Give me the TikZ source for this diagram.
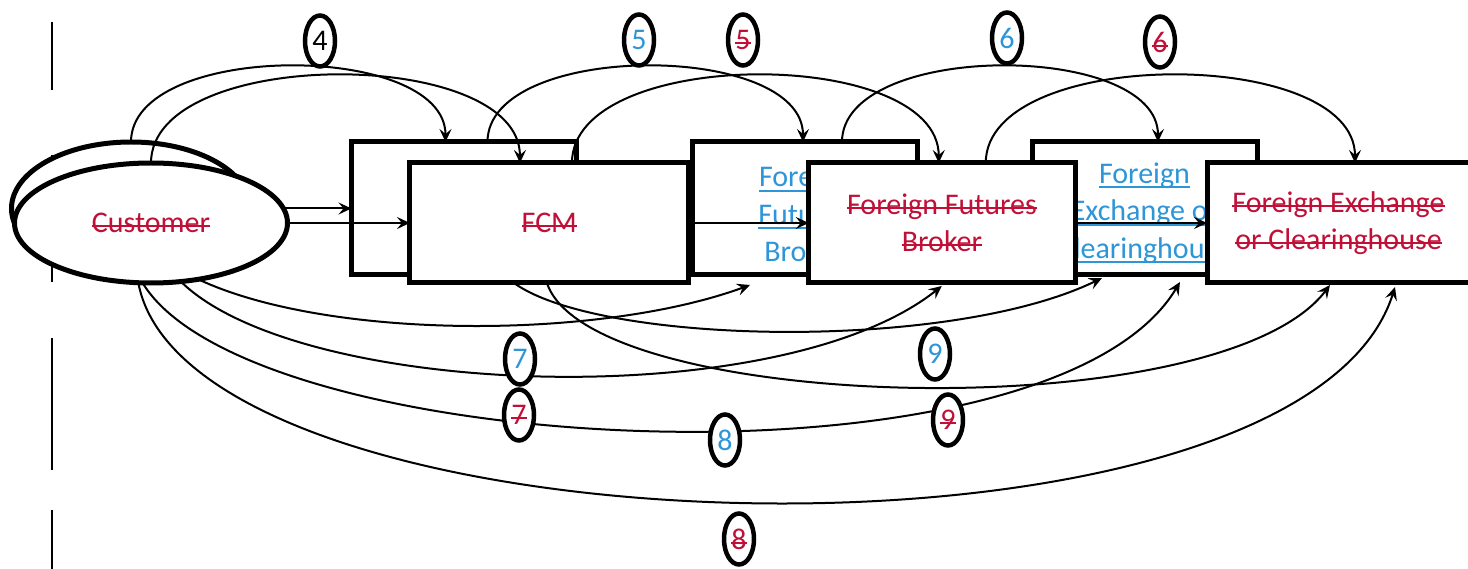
\documentclass[tikz,border=0pt]{standalone}
\usepackage{fontspec}
\setmainfont{Carlito}
\usetikzlibrary{shapes.geometric,arrows.meta}
\definecolor{insblue}{RGB}{46,150,216}
\definecolor{delred}{RGB}{192,16,56}
\newsavebox{\mkbox}
\newcommand{\mkins}[1]{\sbox{\mkbox}{#1}\rlap{\rule[-5pt]{\wd\mkbox}{2pt}}\usebox{\mkbox}}
\newcommand{\mkdel}[1]{\sbox{\mkbox}{#1}\rlap{\rule[5.5pt]{\wd\mkbox}{2pt}}\usebox{\mkbox}}
\begin{document}
\begin{tikzpicture}[x=1pt,y=-1pt,
  every node/.style={font=\fontsize{30}{37.5}\selectfont},
  shp/.style={draw, line width=5pt, fill=white, outer sep=0pt, inner sep=0pt},
  oldbox/.style={shp, rectangle, minimum width=225pt, minimum height=133pt},
  newbox/.style={shp, rectangle, minimum height=120pt},
  oldtext/.style={text=insblue, align=center, inner sep=0pt},
  conn/.style={line width=2pt, -{Stealth[length=13pt,width=12pt,inset=5pt]}},
  tag/.style={draw, ellipse, line width=4.5pt, fill=white, minimum width=30pt, minimum height=51pt, inner sep=0pt},
  bar/.style={line width=2pt}
]
\useasboundingbox[fill=white] (0,0) rectangle (1468,569);

% change bars
\draw[bar] (52,22) -- (52,90);
\draw[bar] (52,155) -- (52,282);
\draw[bar] (52,338) -- (52,470);
\draw[bar] (52,510) -- (52,569);

% old shapes
\node[shp, ellipse, minimum width=239pt, minimum height=133pt] (custold) at (131,208.5) {};
\node[oldbox] (fcmold) at (464,208.5) {};
\node[oldbox] (ffbold) at (804.5,208.5) {};
\node[oldtext] (ffboldtxt) at (804.5,214) {\mkins{Foreign}\\\mkins{Futures}\\Broker};
\node[oldbox] (fecold) at (1144.5,208.5) {};
\node[oldtext] (fecoldtxt) at (1144.5,213) {\mkins{Foreign}\\\mkins{Exchange or}\\\mkins{Clearinghouse}};

% old connectors
\draw[conn] (custold) -- (fcmold);
\draw[conn] (custold.north) .. controls +(0,-101) and +(0,-101) .. ([xshift=94pt]fcmold.north west);
\draw[conn] ([xshift=136pt]fcmold.north west) .. controls +(0,-101) and +(0,-101) .. ([xshift=111pt]ffbold.north west);
\draw[conn] ([xshift=150pt]ffbold.north west) .. controls +(0,-101) and +(0,-101) .. ([xshift=126pt]fecold.north west);

% new shapes
\node[shp, ellipse, minimum width=273pt, minimum height=120pt, text=delred] (cust) at (151,223) {\mkdel{Customer}};
\node[newbox, minimum width=278.7pt, text=delred] (fcm) at (549.3,223) {\mkdel{FCM}};
\node[newbox, minimum width=266.5pt, text=delred, align=center] (ffb) at (942,223) {\mkdel{Foreign Futures}\\\mkdel{Broker}};
\node[newbox, minimum width=263pt, text=delred, align=center] (fec) at (1338.5,223) {\mkdel{Foreign Exchange}\\\mkdel{or Clearinghouse}};

% new connectors
\draw[conn] (cust) -- (fcm);
\draw[conn] (fcm) -- (ffb);
\draw[conn] (ffb) -- (fec);
\draw[conn] (cust.north) .. controls +(0,-117) and +(0,-117) .. ([xshift=110pt]fcm.north west);
\draw[conn] ([xshift=162pt]fcm.north west) .. controls +(0,-117) and +(0,-117) .. ([xshift=130pt]ffb.north west);
\draw[conn] ([xshift=177pt]ffb.north west) .. controls +(0,-117) and +(0,-117) .. ([xshift=148pt]fec.north west);

% lower connectors
\draw[conn] (cust.-50) .. controls +(130,61) and +(-150,55) .. ([xshift=58pt,yshift=-10pt]ffbold.south west);
\draw[conn] (cust.-63) .. controls +(119,117) and +(-162,129) .. ([xshift=133pt,yshift=-3pt]ffb.south west);
\draw[conn] (cust.-98) .. controls +(107,177) and +(-130,218) .. ([xshift=148pt,yshift=-7pt]fecold.south west);
\draw[conn] (cust.-102) .. controls +(52,277) and +(-95,303) .. ([xshift=188pt,yshift=-4pt]fec.south west);
\draw[conn] ([xshift=104pt]fcm.south west) .. controls +(86,62) and +(-152,74) .. ([xshift=70pt,yshift=-3pt]fecold.south west);
\draw[conn] ([xshift=137pt]fcm.south west) .. controls +(43,130) and +(-110,145) .. ([xshift=123pt,yshift=-2pt]fec.south west);

% step tags
\node[tag] (t4) at (320,41) {4};
\node[tag, text=insblue] (t5a) at (639,40) {5};
\node[tag, text=delred] (t5b) at (743,40) {\mkdel{5}};
\node[tag, text=insblue] (t6a) at (1007,38) {6};
\node[tag, text=delred] (t6b) at (1160,42) {\mkdel{6}};
\node[tag, text=insblue] (t7a) at (520,359) {7};
\node[tag, text=delred] (t7b) at (519,415) {\mkdel{7}};
\node[tag, text=insblue] (t8a) at (725,440) {8};
\node[tag, text=delred] (t8b) at (739,539) {\mkdel{8}};
\node[tag, text=insblue] (t9a) at (935,354) {9};
\node[tag, text=delred] (t9b) at (948,420) {\mkdel{9}};
\end{tikzpicture}
\end{document}
